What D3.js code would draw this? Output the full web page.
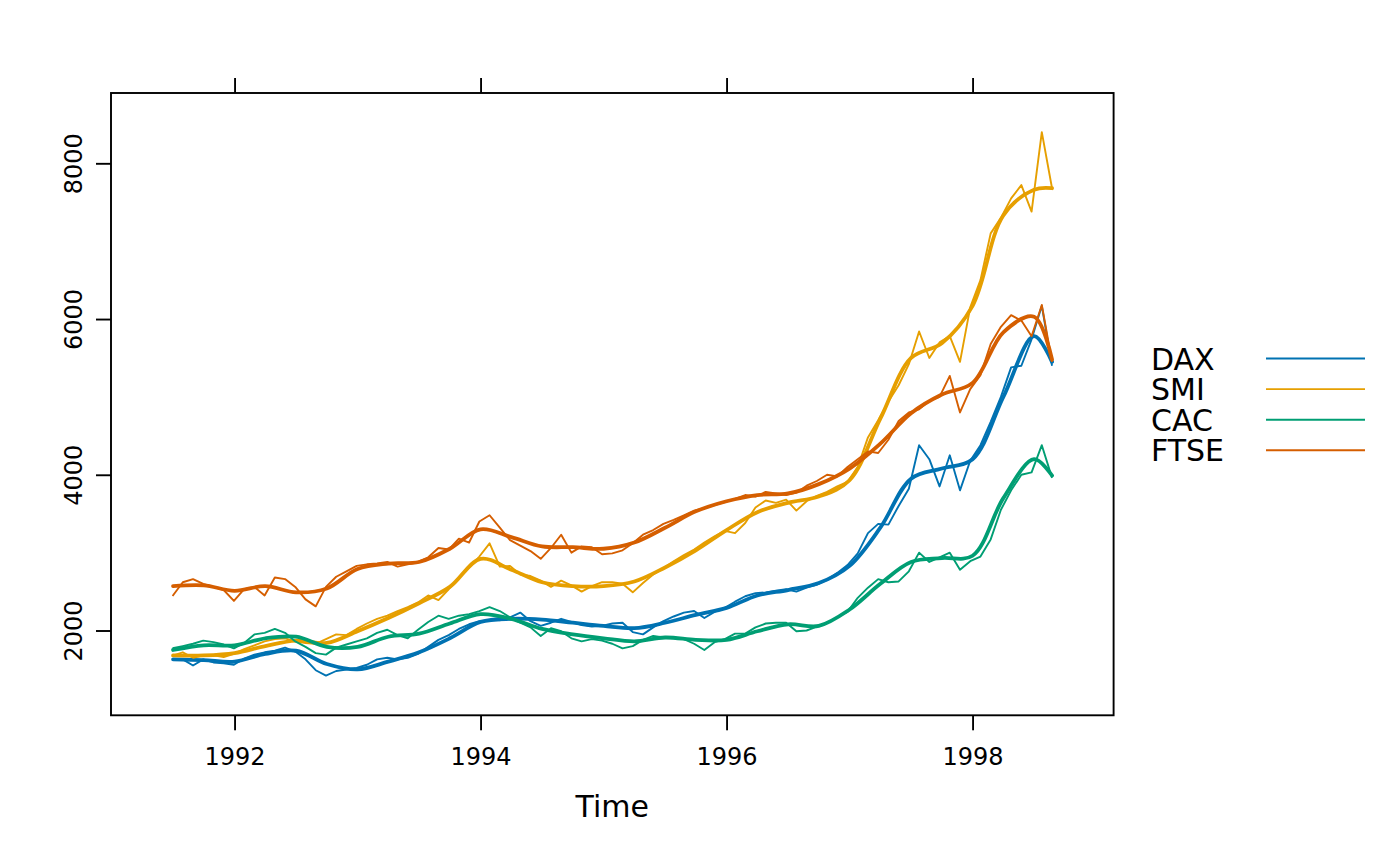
<!DOCTYPE html>
<html>
<head>
<meta charset="utf-8">
<script src="https://cdn.jsdelivr.net/npm/d3@7"></script>
<style>
  body { margin: 0; background: #ffffff; }
  text { font-family: "DejaVu Sans", sans-serif; fill: #000000; }
</style>
</head>
<body>
<div id="chart"></div>
<script>
// European stock indices, daily closing prices 1991-1998 (~monthly)
const seriesNames = ["DAX", "SMI", "CAC", "FTSE"];
const seriesColors = ["#0072B2", "#E69F00", "#009E73", "#D55E00"];

const startTime = 1991.496;
const endTime = 1998.646;

const daxValues = [1628, 1630, 1550, 1630, 1590, 1580, 1560, 1640, 1690, 1720,
                   1740, 1780, 1730, 1630, 1490, 1420, 1480, 1500, 1520, 1560,
                   1630, 1650, 1630, 1650, 1700, 1790, 1880, 1940, 2020, 2080,
                   2120, 2130, 2130, 2170, 2230, 2120, 2060, 2100, 2150, 2110,
                   2070, 2050, 2060, 2090, 2100, 1980, 1950, 2040, 2120, 2180,
                   2230, 2250, 2160, 2240, 2290, 2370, 2440, 2480, 2490, 2510,
                   2530, 2500, 2550, 2590, 2650, 2740, 2840, 2990, 3250, 3370,
                   3360, 3600, 3820, 4380, 4200, 3850, 4250, 3800, 4180, 4380,
                   4680, 5000, 5380, 5400, 5740, 6170, 5400];
const smiValues = [1678, 1720, 1650, 1680, 1680, 1660, 1700, 1760, 1810, 1860,
                   1890, 1900, 1860, 1840, 1830, 1890, 1950, 1940, 2020, 2090,
                   2150, 2190, 2250, 2300, 2360, 2450, 2390, 2530, 2680, 2810,
                   2950, 3120, 2820, 2830, 2720, 2700, 2640, 2560, 2640, 2580,
                   2500, 2570, 2620, 2620, 2600, 2490, 2610, 2720, 2800, 2890,
                   2970, 3040, 3130, 3210, 3280, 3250, 3380, 3580, 3670, 3640,
                   3680, 3540, 3660, 3730, 3780, 3850, 3910, 4100, 4480, 4700,
                   4940, 5150, 5420, 5840, 5500, 5700, 5780, 5450, 6150, 6500,
                   7100, 7300, 7550, 7720, 7380, 8400, 7680];
const cacValues = [1772, 1800, 1830, 1870, 1850, 1820, 1770, 1840, 1950, 1970,
                   2020, 1970, 1860, 1790, 1710, 1690, 1780, 1820, 1860, 1900,
                   1970, 2010, 1940, 1900, 2010, 2110, 2190, 2150, 2190, 2210,
                   2250, 2300, 2250, 2170, 2100, 2040, 1930, 2030, 1990, 1900,
                   1860, 1890, 1870, 1830, 1770, 1800, 1880, 1930, 1910, 1900,
                   1890, 1830, 1750, 1850, 1890, 1960, 1960, 2040, 2090, 2100,
                   2100, 1990, 2000, 2050, 2100, 2170, 2240, 2420, 2550, 2660,
                   2620, 2630, 2760, 3000, 2880, 2940, 3000, 2780, 2890, 2950,
                   3170, 3550, 3800, 4000, 4030, 4380, 3960];
const ftseValues = [2443, 2620, 2660, 2600, 2560, 2520, 2380, 2530, 2560, 2450,
                    2680, 2660, 2560, 2400, 2310, 2560, 2690, 2760, 2830, 2850,
                    2860, 2880, 2820, 2850, 2880, 2940, 3060, 3040, 3180, 3130,
                    3400, 3480, 3320, 3160, 3090, 3020, 2920, 3060, 3230, 3000,
                    3080, 3070, 2980, 2990, 3030, 3120, 3230, 3290, 3370, 3420,
                    3480, 3540, 3570, 3610, 3650, 3690, 3740, 3720, 3780, 3760,
                    3740, 3770, 3860, 3920, 4000, 3980, 4100, 4200, 4300, 4280,
                    4450, 4690, 4800, 4840, 4950, 5000, 5270, 4800, 5100, 5280,
                    5680, 5900, 6050, 5980, 5780, 6180, 5450];

// Smoothed trend lines, one value per quarter (plus the last day)
const daxSmooth  = [1630, 1620, 1600, 1700, 1740, 1570, 1500, 1600, 1720, 1900,
                    2110, 2150, 2140, 2100, 2060, 2030, 2100, 2200, 2290, 2450,
                    2520, 2610, 2830, 3320, 3950, 4080, 4200, 5000, 5780, 5450];
const smiSmooth  = [1680, 1680, 1710, 1800, 1870, 1840, 1990, 2160, 2350, 2560,
                    2920, 2780, 2620, 2570, 2570, 2630, 2810, 3030, 3290, 3520,
                    3640, 3720, 3930, 4720, 5500, 5690, 6170, 7330, 7660, 7680];
const cacSmooth  = [1750, 1810, 1810, 1900, 1920, 1790, 1790, 1920, 1960, 2090,
                    2210, 2150, 2020, 1950, 1900, 1860, 1910, 1880, 1880, 1990,
                    2080, 2060, 2270, 2600, 2880, 2930, 2960, 3700, 4200, 3990];
const ftseSmooth = [2570, 2580, 2510, 2570, 2490, 2540, 2790, 2860, 2880, 3050,
                    3300, 3200, 3080, 3070, 3050, 3130, 3320, 3530, 3660, 3740,
                    3760, 3880, 4080, 4400, 4790, 5030, 5180, 5830, 6030, 5480];

const xTicks = [1992, 1994, 1996, 1998];
const yTicks = [2000, 4000, 6000, 8000];

renderChart();

function renderChart() {
    const width = 1400, height = 866;
    const panel = {left: 111, right: 1113.6, top: 93, bottom: 715.3};

    // Time grids for the raw series and for the smoothed series
    const rawTimes = daxValues.map((v, i) => startTime + i * (endTime - startTime) / (daxValues.length - 1));
    const smoothTimes = d3.range(29).map(i => 1991.5 + i * 0.25).concat([endTime]);

    const rawSeries = [daxValues, smiValues, cacValues, ftseValues];
    const smoothSeries = [daxSmooth, smiSmooth, cacSmooth, ftseSmooth];

    const svg = d3.select("#chart")
                  .append("svg")
                  .attr("width", width)
                  .attr("height", height);

    // Scales, padded like lattice (7% on each side)
    const xScale = d3.scaleLinear()
                     .domain([1990.9955, 1999.1465])
                     .range([panel.left, panel.right]);
    const yScale = d3.scaleLinear()
                     .domain([911, 8903])
                     .range([panel.bottom, panel.top]);

    // Bottom axis with labels
    svg.append("g")
       .attr("transform", "translate(0," + panel.bottom + ")")
       .call(d3.axisBottom(xScale).tickValues(xTicks).tickSize(15).tickFormat(d3.format("d")))
       .call(g => g.select(".domain").remove())
       .call(g => g.selectAll("line").attr("stroke", "#000").attr("stroke-width", 1.9))
       .call(g => g.selectAll("text")
                   .attr("y", 50)
                   .attr("dy", null)
                   .style("font-size", "24px")
                   .style("font-family", "DejaVu Sans"));

    // Top axis, ticks only
    svg.append("g")
       .attr("transform", "translate(0," + panel.top + ")")
       .call(d3.axisTop(xScale).tickValues(xTicks).tickSize(15).tickFormat(""))
       .call(g => g.select(".domain").remove())
       .call(g => g.selectAll("line").attr("stroke", "#000").attr("stroke-width", 1.9));

    // Left axis with rotated labels
    svg.append("g")
       .attr("transform", "translate(" + panel.left + ",0)")
       .call(d3.axisLeft(yScale).tickValues(yTicks).tickSize(15).tickFormat(d3.format("d")))
       .call(g => g.select(".domain").remove())
       .call(g => g.selectAll("line").attr("stroke", "#000").attr("stroke-width", 1.9))
       .call(g => g.selectAll("text")
                   .attr("transform", "rotate(-90)")
                   .attr("x", 0)
                   .attr("y", -29)
                   .attr("dy", null)
                   .attr("text-anchor", "middle")
                   .style("font-size", "24px")
                   .style("font-family", "DejaVu Sans"));

    // Raw line followed by its smooth, for each index in turn
    const rawLine = d3.line()
                      .x((d, i) => xScale(rawTimes[i]))
                      .y(d => yScale(d));
    const smoothLine = d3.line()
                         .x((d, i) => xScale(smoothTimes[i]))
                         .y(d => yScale(d))
                         .curve(d3.curveCatmullRom.alpha(0.5));

    const lines = svg.append("g");
    seriesNames.forEach(function (name, s) {
        lines.append("path")
             .datum(rawSeries[s])
             .attr("d", rawLine)
             .attr("fill", "none")
             .attr("stroke", seriesColors[s])
             .attr("stroke-width", 1.9)
             .attr("stroke-linejoin", "round");
        lines.append("path")
             .datum(smoothSeries[s])
             .attr("d", smoothLine)
             .attr("fill", "none")
             .attr("stroke", seriesColors[s])
             .attr("stroke-width", 3.8)
             .attr("stroke-linecap", "round");
    });

    // Panel frame
    svg.append("rect")
       .attr("x", panel.left)
       .attr("y", panel.top)
       .attr("width", panel.right - panel.left)
       .attr("height", panel.bottom - panel.top)
       .attr("fill", "none")
       .attr("stroke", "#000")
       .attr("stroke-width", 1.9);

    // X axis title
    svg.append("text")
       .attr("x", (panel.left + panel.right) / 2)
       .attr("y", 817)
       .attr("text-anchor", "middle")
       .style("font-size", "30px")
       .text("Time");

    // Key on the right
    const key = svg.append("g")
                   .selectAll("g")
                   .data(seriesNames)
                   .enter()
                   .append("g")
                   .attr("transform", (d, i) => "translate(0," + (358.5 + i * 30.6) + ")");
    key.append("text")
       .attr("x", 1151)
       .attr("y", 11)
       .style("font-size", "30px")
       .text(d => d);
    key.append("line")
       .attr("x1", 1266)
       .attr("x2", 1365)
       .attr("y1", 0)
       .attr("y2", 0)
       .attr("stroke", (d, i) => seriesColors[i])
       .attr("stroke-width", 1.9);
}
</script>
</body>
</html>
